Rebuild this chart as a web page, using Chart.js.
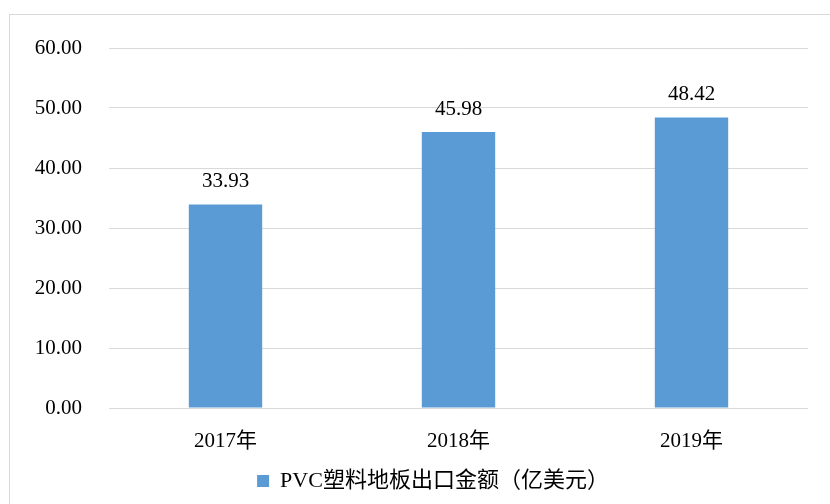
<!DOCTYPE html>
<html>
<head>
<meta charset="utf-8">
<script src="https://cdn.jsdelivr.net/npm/chart.js@4/dist/chart.umd.min.js"></script>
<style>
  html, body { margin: 0; padding: 0; background: #fff; overflow: hidden; }
  #frame { position: absolute; left: 9px; top: 14px; width: 840px; height: 600px; border: 1px solid #d9d9d9; }
  #wrap { position: absolute; left: 0; top: 0; width: 830px; height: 504px; }
</style>
</head>
<body>
<div id="frame"></div>
<div id="wrap"><canvas id="chart" width="830" height="504"></canvas></div>
<script>
  // data
  var years = ['2017年', '2018年', '2019年'];
  var exportValues = [33.93, 45.98, 48.42];
  var seriesName = 'PVC塑料地板出口金额（亿美元）';
  var yTicks = [0, 10, 20, 30, 40, 50, 60];

  var FONT = "'Liberation Serif', 'Times New Roman', 'Noto Sans CJK SC', serif";

  // value labels above bars
  var barLabels = {
    id: 'barLabels',
    afterDatasetsDraw: function (chart) {
      var ctx = chart.ctx;
      var meta = chart.getDatasetMeta(0);
      ctx.save();
      ctx.font = '21px ' + FONT;
      ctx.fillStyle = '#000';
      ctx.textAlign = 'center';
      ctx.textBaseline = 'bottom';
      meta.data.forEach(function (bar, i) {
        ctx.fillText(exportValues[i].toFixed(2), bar.x, bar.y - 12);
      });
      ctx.restore();
    }
  };

  // legend sits a bit right of canvas centre in the original
  var legendShift = {
    id: 'legendShift',
    beforeDraw: function (chart) {
      if (chart.legend) {
        chart.legend.left += 29;
        chart.legend.right += 29;
      }
    }
  };

  new Chart(document.getElementById('chart').getContext('2d'), {
    type: 'bar',
    data: {
      labels: years,
      datasets: [{
        label: seriesName,
        data: exportValues,
        backgroundColor: '#5b9bd5',
        borderWidth: 0,
        barPercentage: 0.315,
        categoryPercentage: 1
      }]
    },
    options: {
      responsive: false,
      animation: false,
      layout: { padding: { left: 0, right: 22, top: 48, bottom: 2 } },
      plugins: {
        legend: {
          position: 'bottom',
          labels: {
            color: '#000',
            boxWidth: 12,
            boxHeight: 12,
            padding: 10,
            font: { family: FONT, size: 22 }
          }
        },
        tooltip: { enabled: false }
      },
      scales: {
        x: {
          grid: { display: false },
          border: { display: false },
          ticks: { color: '#000', padding: 13, font: { family: FONT, size: 21 } },
          afterFit: function (s) { s.height = 52; }
        },
        y: {
          min: 0,
          max: 60,
          afterBuildTicks: function (s) { s.ticks = yTicks.map(function (v) { return { value: v }; }); },
          grid: { color: '#d9d9d9', lineWidth: 1, drawTicks: false },
          border: { display: false },
          ticks: {
            color: '#000',
            padding: 27,
            font: { family: FONT, size: 21 },
            callback: function (v) { return Number(v).toFixed(2); }
          },
          afterFit: function (s) { s.width = 109; }
        }
      }
    },
    plugins: [barLabels, legendShift]
  });
</script>
</body>
</html>
